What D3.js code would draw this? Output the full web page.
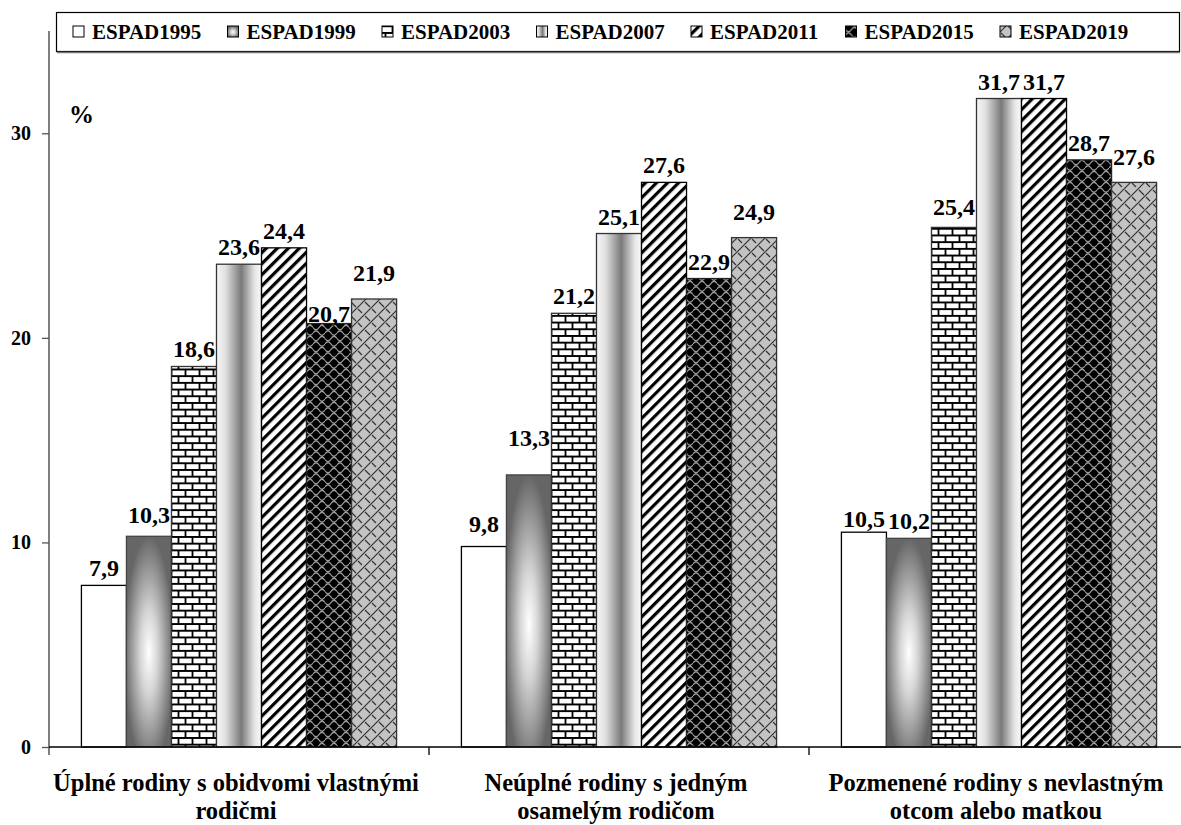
<!DOCTYPE html>
<html>
<head>
<meta charset="utf-8">
<script src="https://cdn.jsdelivr.net/npm/d3@7"></script>
<style>
  html, body { margin: 0; padding: 0; background: #fff; }
  svg { display: block; }
</style>
</head>
<body>
<svg id="chart" width="1181" height="825"></svg>
<script>
// ---- data ----
const categories = [
  ["Úplné rodiny s obidvomi vlastnými", "rodičmi"],
  ["Neúplné rodiny s jedným", "osamelým rodičom"],
  ["Pozmenené rodiny s nevlastným", "otcom alebo matkou"]
];
const series = ["ESPAD1995", "ESPAD1999", "ESPAD2003", "ESPAD2007", "ESPAD2011", "ESPAD2015", "ESPAD2019"];
const valuesFull     = [7.9, 10.3, 18.6, 23.6, 24.4, 20.7, 21.9];
const valuesSingle   = [9.8, 13.3, 21.2, 25.1, 27.6, 22.9, 24.9];
const valuesModified = [10.5, 10.2, 25.4, 31.7, 31.7, 28.7, 27.6];
const yTicks = [0, 10, 20, 30];
const yLabel = "%";

// ---- layout / style ----
const FONT = "Liberation Serif";
// small manual nudges of value labels (px, negative = up), as placed in the original
const labelNudge = [
  [0, -4, 0, 0, 0, 7, -9],
  [-6, -20, 0, 0, 0, 0, -9],
  [4, 0, -3, 0, 0, 0, -8]
];

const table = categories.map((c, i) => ({
  idx: i,
  lines: c,
  key: c.join(" "),
  values: [valuesFull, valuesSingle, valuesModified][i]
}));

const svg = d3.select("#chart").attr("font-family", FONT).attr("font-weight", "bold");
const W = 1181;
const plotLeft = 49, catStep = 380, plotTop = 31, plotBottom = 747;

const x0 = d3.scaleBand().domain(table.map(d => d.key))
  .range([plotLeft, plotLeft + catStep * 3]).padding(0);
const x1 = d3.scaleBand().domain(series)
  .range([0, x0.bandwidth()]).paddingInner(0).paddingOuter(0.72);
const y = d3.scaleLinear().domain([0, 35]).range([plotBottom, plotTop]);

// ---- patterns / gradients ----
const defs = svg.append("defs");

const rg = defs.append("radialGradient").attr("id", "g1999")
  .attr("cx", 0.5).attr("cy", 0.55).attr("r", 0.55);
rg.append("stop").attr("offset", "0%").attr("stop-color", "#ffffff");
rg.append("stop").attr("offset", "35%").attr("stop-color", "#d6d6d6");
rg.append("stop").attr("offset", "100%").attr("stop-color", "#666666");

const lg = defs.append("linearGradient").attr("id", "g2007")
  .attr("x1", 0).attr("x2", 1).attr("y1", 0).attr("y2", 0);
lg.append("stop").attr("offset", "0%").attr("stop-color", "#f6f6f6");
lg.append("stop").attr("offset", "20%").attr("stop-color", "#e0e0e0");
lg.append("stop").attr("offset", "55%").attr("stop-color", "#7a7a7a");
lg.append("stop").attr("offset", "85%").attr("stop-color", "#e6e6e6");
lg.append("stop").attr("offset", "100%").attr("stop-color", "#fafafa");

const brick = defs.append("pattern").attr("id", "p2003")
  .attr("patternUnits", "userSpaceOnUse").attr("width", 14).attr("height", 13.4);
brick.append("rect").attr("width", 14).attr("height", 13.4).attr("fill", "#fff");
brick.append("path")
  .attr("d", "M0,0.9 H14 M0,7.6 H14 M3.5,0 V6.7 M10.5,6.7 V13.4")
  .attr("stroke", "#000").attr("stroke-width", 1.8).attr("fill", "none");

const stripes = defs.append("pattern").attr("id", "p2011")
  .attr("patternUnits", "userSpaceOnUse").attr("width", 7.8).attr("height", 7.8)
  .attr("patternTransform", "rotate(45)");
stripes.append("rect").attr("width", 7.8).attr("height", 7.8).attr("fill", "#fff");
stripes.append("rect").attr("width", 3.2).attr("height", 7.8).attr("fill", "#000");

const scales = defs.append("pattern").attr("id", "p2015")
  .attr("patternUnits", "userSpaceOnUse").attr("width", 12).attr("height", 11);
scales.append("rect").attr("width", 12).attr("height", 11).attr("fill", "#000");
scales.append("path")
  .attr("d", "M0,3 Q3,-1.5 6,3 Q9,7.5 12,3 M0,8.5 Q3,13 6,8.5 M6,8.5 Q9,4 12,8.5")
  .attr("stroke", "#a0a0a0").attr("stroke-width", 1.3).attr("fill", "none");

const lattice = defs.append("pattern").attr("id", "p2019")
  .attr("patternUnits", "userSpaceOnUse").attr("width", 14).attr("height", 14);
lattice.append("rect").attr("width", 14).attr("height", 14).attr("fill", "#c3c3c3");
lattice.append("path")
  .attr("d", "M0,14 L14,0 M-3,3 L3,-3 M11,17 L17,11 M1,1 L5,5 M8,8 L13,13")
  .attr("stroke", "#333").attr("stroke-width", 1.2).attr("fill", "none");

const fills = {
  ESPAD1995: "#ffffff",
  ESPAD1999: "url(#g1999)",
  ESPAD2003: "url(#p2003)",
  ESPAD2007: "url(#g2007)",
  ESPAD2011: "url(#p2011)",
  ESPAD2015: "url(#p2015)",
  ESPAD2019: "url(#p2019)"
};
const strokes = {
  ESPAD1995: "#000", ESPAD1999: "#444", ESPAD2003: "#333", ESPAD2007: "#333",
  ESPAD2011: "#000", ESPAD2015: "#222", ESPAD2019: "#333"
};

// ---- bars ----
const groups = svg.append("g").selectAll("g").data(table).join("g")
  .attr("transform", d => `translate(${x0(d.key)},0)`);

groups.selectAll("rect").data(d => d.values.map((v, i) => ({ s: series[i], v })))
  .join("rect")
  .attr("x", d => x1(d.s))
  .attr("y", d => y(d.v))
  .attr("width", x1.bandwidth())
  .attr("height", d => y(0) - y(d.v))
  .attr("fill", d => fills[d.s])
  .attr("stroke", d => strokes[d.s])
  .attr("stroke-width", 1.3);

const fmt = v => d3.format(".1f")(v).replace(".", ",");
groups.selectAll("text.val")
  .data(d => d.values.map((v, i) => ({ s: series[i], v, nudge: labelNudge[d.idx][i] })))
  .join("text")
  .attr("class", "val")
  .attr("x", d => x1(d.s) + x1.bandwidth() / 2)
  .attr("y", d => y(d.v) - 9 + d.nudge)
  .attr("text-anchor", "middle")
  .attr("font-size", 24)
  .text(d => fmt(d.v));

// ---- axes ----
const yAxis = svg.append("g")
  .attr("transform", `translate(${plotLeft},0)`)
  .call(d3.axisLeft(y).tickValues(yTicks).tickSize(7).tickPadding(11).tickFormat(d3.format("d")));
yAxis.attr("font-family", FONT).attr("font-weight", "bold").attr("font-size", 20);
yAxis.select(".domain").attr("d", `M0,${plotTop}V${plotBottom + 8}`).attr("stroke", "#555").attr("stroke-width", 1.5);
yAxis.selectAll(".tick line").attr("stroke", "#555").attr("stroke-width", 1.3);
yAxis.selectAll(".tick text").attr("fill", "#000");

svg.append("line")
  .attr("x1", plotLeft).attr("x2", W).attr("y1", plotBottom).attr("y2", plotBottom)
  .attr("stroke", "#000").attr("stroke-width", 1.3);

svg.append("g").selectAll("line").data(table.slice(1)).join("line")
  .attr("x1", d => x0(d.key)).attr("x2", d => x0(d.key))
  .attr("y1", plotBottom).attr("y2", plotBottom + 8)
  .attr("stroke", "#000").attr("stroke-width", 1.3);

const catLabels = svg.append("g").selectAll("text").data(table).join("text")
  .attr("x", d => x0(d.key) + x0.bandwidth() / 2 - 3)
  .attr("y", 791)
  .attr("text-anchor", "middle")
  .attr("font-size", 24.5);
catLabels.selectAll("tspan").data(d => d.lines).join("tspan")
  .attr("x", function () { return d3.select(this.parentNode).attr("x"); })
  .attr("dy", (d, i) => i === 0 ? 0 : 28)
  .text(d => d);

svg.append("text").attr("x", 69).attr("y", 123).attr("font-size", 25).text(yLabel);

// ---- legend ----
const legend = svg.append("g");
legend.append("rect").attr("x", 56.5).attr("y", 12.5).attr("width", 1123).attr("height", 39)
  .attr("fill", "#fff").attr("stroke", "#000").attr("stroke-width", 1.2);
legend.append("line").attr("x1", 57).attr("x2", 1180).attr("y1", 52.5).attr("y2", 52.5)
  .attr("stroke", "#777").attr("stroke-width", 1.5);
const legX = d3.scalePoint().domain(series).range([73, 1000]);
const items = legend.selectAll("g.item").data(series).join("g").attr("class", "item")
  .attr("transform", d => `translate(${legX(d)},32)`);
items.append("rect").attr("x", 0).attr("y", -6).attr("width", 11).attr("height", 11)
  .attr("fill", d => fills[d]).attr("stroke", "#000").attr("stroke-width", 1);
items.append("text").attr("x", 19).attr("y", 7).attr("font-size", 21).text(d => d);
</script>
</body>
</html>
